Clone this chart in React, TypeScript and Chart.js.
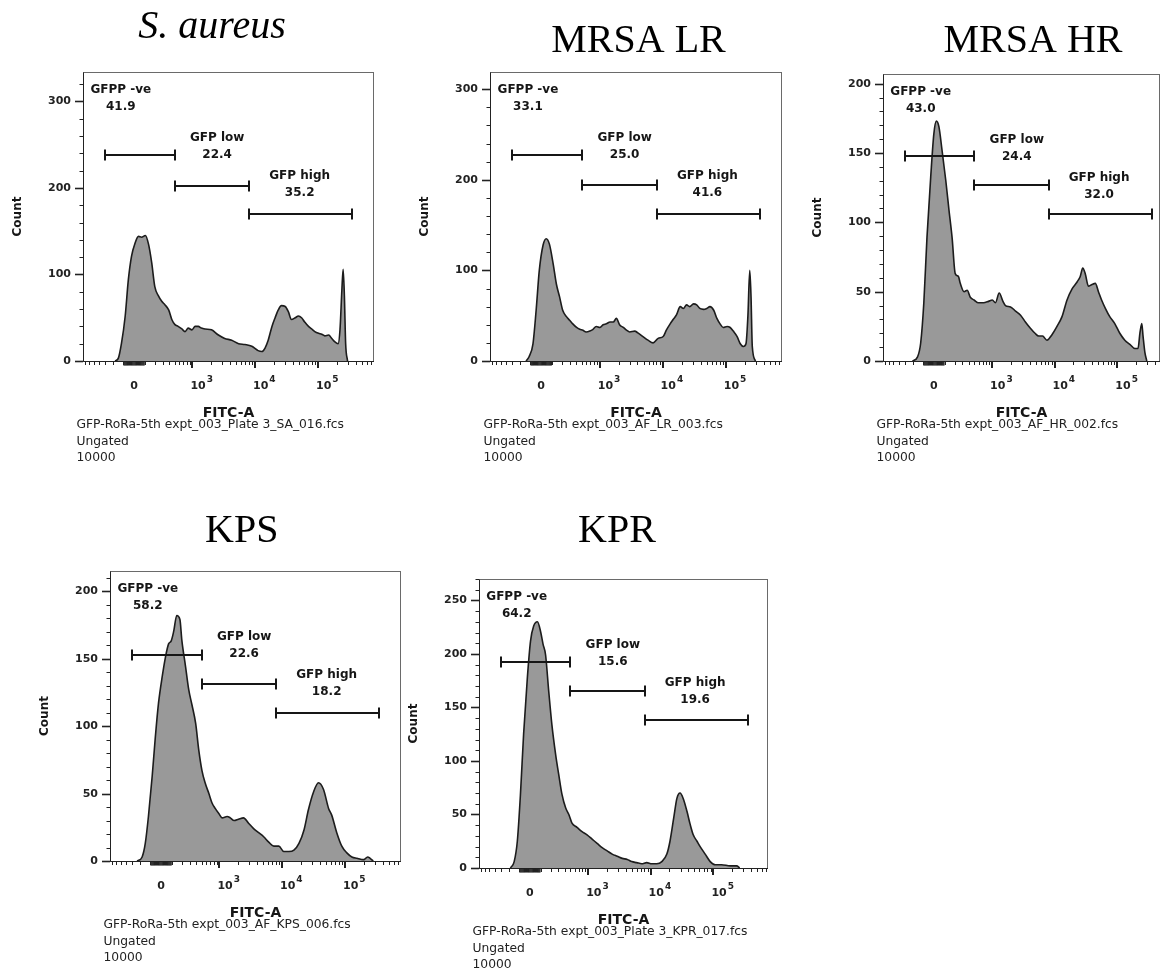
import React, { useEffect, useRef } from "react";
import { Chart, registerables } from "chart.js";
Chart.register(...registerables);

// ---------- data (x in biexponential display units, y in counts) ----------
const saX = [-0.30,-0.25,-0.20,-0.14,-0.09,-0.04,0.02,0.07,0.12,0.18,0.23,0.28,0.33,0.39,0.44,0.49,0.55,0.60,0.65,0.70,0.76,0.81,0.86,0.92,0.97,1.02,1.07,1.13,1.23,1.34,1.44,1.55,1.66,1.76,1.87,1.97,2.03,2.08,2.13,2.19,2.24,2.29,2.34,2.40,2.45,2.50,2.56,2.61,2.66,2.71,2.77,2.82,2.87,2.93,2.98,3.03,3.09,3.14,3.19,3.24,3.27,3.30,3.32,3.34,3.36,3.39];
const saY = [0,3,20,52,94,121,137,144,143,145,135,114,86,75,69,65,59,48,42,40,37,34,38,36,40,40,38,37,36,30,26,24,20,19,17,12,11,15,24,40,50,59,64,63,57,48,50,52,50,45,40,37,34,32,31,29,30,26,22,20,36,82,106,75,20,0];

const lrX = [-0.24,-0.19,-0.13,-0.08,-0.03,0.03,0.08,0.13,0.19,0.24,0.29,0.34,0.40,0.45,0.50,0.56,0.61,0.66,0.71,0.77,0.82,0.87,0.93,0.98,1.03,1.09,1.14,1.19,1.24,1.30,1.35,1.40,1.48,1.53,1.61,1.69,1.77,1.85,1.93,1.98,2.04,2.09,2.14,2.20,2.25,2.30,2.35,2.41,2.46,2.51,2.57,2.62,2.67,2.73,2.78,2.83,2.88,2.94,2.99,3.04,3.10,3.15,3.20,3.24,3.27,3.30,3.32,3.34,3.39];
const lrY = [0,5,19,56,100,128,135,129,107,85,71,56,49,45,41,37,35,34,32,33,35,38,37,40,41,43,43,47,40,37,34,32,33,31,27,23,20,25,27,34,41,46,51,60,58,62,60,63,62,58,57,58,60,56,47,41,37,38,37,33,27,19,16,19,49,100,71,16,0];

const hrX = [-0.34,-0.26,-0.21,-0.16,-0.11,-0.05,0.00,0.04,0.08,0.13,0.19,0.24,0.29,0.34,0.39,0.42,0.48,0.53,0.58,0.64,0.71,0.79,0.87,0.93,0.98,1.04,1.10,1.14,1.22,1.30,1.38,1.46,1.53,1.61,1.67,1.73,1.80,1.88,1.96,2.04,2.12,2.20,2.28,2.33,2.37,2.41,2.46,2.51,2.57,2.62,2.67,2.73,2.80,2.88,2.96,3.04,3.12,3.20,3.25,3.28,3.31,3.33,3.36,3.39];
const hrY = [0,3,13,42,89,133,164,173,169,152,130,109,89,63,61,56,50,51,46,44,42,42,43,44,42,49,43,40,39,36,33,28,24,20,18,18,15,19,25,32,44,52,57,61,67,63,54,55,56,50,44,38,32,27,20,15,12,9,9,20,27,18,6,0];

const kpsX = [-0.38,-0.30,-0.25,-0.20,-0.14,-0.09,-0.04,0.02,0.07,0.12,0.16,0.20,0.25,0.30,0.33,0.39,0.44,0.49,0.55,0.60,0.65,0.70,0.76,0.81,0.86,0.92,0.97,1.05,1.10,1.16,1.23,1.31,1.39,1.47,1.55,1.63,1.71,1.79,1.87,1.95,2.03,2.11,2.19,2.27,2.34,2.42,2.50,2.58,2.66,2.71,2.79,2.87,2.95,3.03,3.11,3.22,3.28,3.32,3.37];
const kpsY = [0,3,13,33,63,92,117,137,151,161,163,170,182,179,164,144,127,116,102,82,67,58,50,43,39,35,32,33,32,30,31,32,28,24,21,18,14,11,11,7,7,8,13,23,38,51,58,53,39,34,21,11,6,3,2,1,3,2,0];

const kprX = [-0.31,-0.25,-0.20,-0.15,-0.10,-0.04,0.01,0.06,0.12,0.17,0.21,0.25,0.30,0.35,0.41,0.46,0.51,0.57,0.62,0.67,0.75,0.83,0.91,0.99,1.07,1.15,1.23,1.31,1.39,1.47,1.55,1.62,1.70,1.78,1.86,1.94,2.02,2.10,2.18,2.23,2.29,2.34,2.39,2.44,2.50,2.55,2.60,2.66,2.71,2.79,2.87,2.95,3.05,3.19,3.29,3.34];
const kprY = [0,6,25,69,125,178,212,226,230,221,209,199,165,134,106,87,69,56,50,42,38,34,31,27,23,19,16,13,11,9,8,6,5,4,5,4,4,6,13,25,47,65,70,65,53,41,31,25,20,13,6,3,3,2,2,0];

// gates (FITC boundaries), names and percentages
const gateBounds = [-300, 500, 8100, 350000];
const gateNames = ["GFPP -ve", "GFP low", "GFP high"];
const saPct = ["41.9", "22.4", "35.2"];
const lrPct = ["33.1", "25.0", "41.6"];
const hrPct = ["43.0", "24.4", "32.0"];
const kpsPct = ["58.2", "22.6", "18.2"];
const kprPct = ["64.2", "15.6", "19.6"];
// gate bar heights (counts)
const saGateY = [238, 202, 170];
const lrGateY = [227, 194, 162];
const hrGateY = [148, 127, 106];
const kpsGateY = [153, 131, 110];
const kprGateY = [192, 165, 138];

const titles = ["S. aureus", "MRSA LR", "MRSA HR", "KPS", "KPR"];
const files = [
  "GFP-RoRa-5th expt_003_Plate 3_SA_016.fcs",
  "GFP-RoRa-5th expt_003_AF_LR_003.fcs",
  "GFP-RoRa-5th expt_003_AF_HR_002.fcs",
  "GFP-RoRa-5th expt_003_AF_KPS_006.fcs",
  "GFP-RoRa-5th expt_003_Plate 3_KPR_017.fcs",
];
const xPowers = [3, 4, 5];

// biexponential-like display transform
const T = (v: number) => Math.asinh(v / 240) / Math.LN10;

type Cfg = {
  title: string; italic: boolean; xs: number[]; ys: number[];
  yMax: number; yMajor: number; yMinor: number; xMax: number;
  gateY: number[]; pct: string[]; file: string;
  box: { left: number; top: number; w: number; h: number };
  pad: { left: number; top: number; right: number; bottom: number };
  titleX: number; titleY: number;
};

const panels: Cfg[] = [
  { title: titles[0], italic: true, xs: saX, ys: saY, yMax: 334, yMajor: 100, yMinor: 20, xMax: 3.81, gateY: saGateY, pct: saPct, file: files[0],
    box: { left: 0, top: 0, w: 395, h: 475 }, pad: { left: 83, top: 72, right: 21, bottom: 114 }, titleX: 212, titleY: 38 },
  { title: titles[1], italic: false, xs: lrX, ys: lrY, yMax: 319, yMajor: 100, yMinor: 20, xMax: 3.81, gateY: lrGateY, pct: lrPct, file: files[1],
    box: { left: 400, top: 0, w: 390, h: 475 }, pad: { left: 90, top: 72, right: 8, bottom: 114 }, titleX: 238.5, titleY: 52 },
  { title: titles[2], italic: false, xs: hrX, ys: hrY, yMax: 207, yMajor: 50, yMinor: 10, xMax: 3.60, gateY: hrGateY, pct: hrPct, file: files[2],
    box: { left: 790, top: 0, w: 377, h: 475 }, pad: { left: 93, top: 74, right: 7, bottom: 114 }, titleX: 243, titleY: 52 },
  { title: titles[3], italic: false, xs: kpsX, ys: kpsY, yMax: 215, yMajor: 50, yMinor: 10, xMax: 3.81, gateY: kpsGateY, pct: kpsPct, file: files[3],
    box: { left: 0, top: 490, w: 405, h: 485 }, pad: { left: 110, top: 81, right: 4, bottom: 114 }, titleX: 241.7, titleY: 51.7 },
  { title: titles[4], italic: false, xs: kprX, ys: kprY, yMax: 270, yMajor: 50, yMinor: 10, xMax: 3.79, gateY: kprGateY, pct: kprPct, file: files[4],
    box: { left: 405, top: 490, w: 395, h: 485 }, pad: { left: 74, top: 89, right: 32, bottom: 107 }, titleX: 212, titleY: 51.7 },
];

const X_MIN = -0.81;
const SANS = '"DejaVu Sans", sans-serif';
const LABEL_U = [-0.21, 1.32, 2.63];
const LABEL_DY = [18, 66, 104];

function makeDecor(cfg: Cfg) {
  return {
    id: "flowDecor",
    afterDraw(chart: any) {
      const ctx = chart.ctx as CanvasRenderingContext2D;
      const a = chart.chartArea;
      const sx = chart.scales.x, sy = chart.scales.y;
      const L = a.left, R = a.right, Tp = a.top, B = a.bottom;
      ctx.save();

      // gates
      ctx.strokeStyle = "#161616";
      ctx.lineWidth = 2;
      for (let i = 0; i < 3; i++) {
        const x1 = Math.round(sx.getPixelForValue(T(gateBounds[i])));
        const x2 = Math.round(sx.getPixelForValue(T(gateBounds[i + 1])));
        const gy = Math.round(sy.getPixelForValue(cfg.gateY[i]));
        ctx.beginPath();
        ctx.moveTo(x1, gy); ctx.lineTo(x2, gy);
        ctx.moveTo(x1, gy - 5.5); ctx.lineTo(x1, gy + 5.5);
        ctx.moveTo(x2, gy - 5.5); ctx.lineTo(x2, gy + 5.5);
        ctx.stroke();
      }
      ctx.fillStyle = "#161616";
      ctx.font = `bold 12px ${SANS}`;
      ctx.textAlign = "center";
      ctx.textBaseline = "middle";
      for (let i = 0; i < 3; i++) {
        const lx = sx.getPixelForValue(LABEL_U[i]);
        ctx.fillText(gateNames[i], lx, Tp + LABEL_DY[i]);
        ctx.fillText(cfg.pct[i], lx, Tp + LABEL_DY[i] + 17);
      }

      // frame
      ctx.strokeStyle = "#6a6a6a";
      ctx.lineWidth = 1;
      ctx.strokeRect(L + 0.5, Tp + 0.5, R - L - 1, B - Tp);
      ctx.strokeStyle = "#222";
      ctx.beginPath();
      ctx.moveTo(L + 0.5, Tp + 0.5); ctx.lineTo(L + 0.5, B + 0.5);
      ctx.lineTo(R, B + 0.5);
      ctx.stroke();

      // x ticks
      const minors: number[] = [0];
      for (let d = 10; d <= 100000; d *= 10) {
        for (let k = 1; k <= 9; k++) {
          if (k === 1 && d >= 1000) continue;
          minors.push(k * d);
          if (d < 1000) minors.push(-k * d);
        }
      }
      ctx.strokeStyle = "#222";
      for (const v of minors) {
        const u = T(v);
        if (u < sx.min || u > sx.max) continue;
        const dense = Math.abs(v) < 100;
        const px = dense ? sx.getPixelForValue(u) : Math.round(sx.getPixelForValue(u)) + 0.5;
        ctx.lineWidth = dense ? 1.5 : 1;
        ctx.beginPath();
        ctx.moveTo(px, B); ctx.lineTo(px, B + (dense ? 4.5 : 4));
        ctx.stroke();
      }
      ctx.lineWidth = 2;
      ctx.beginPath();
      for (const p of xPowers) {
        const px = Math.round(sx.getPixelForValue(T(Math.pow(10, p))));
        ctx.moveTo(px, B); ctx.lineTo(px, B + 7);
      }
      ctx.stroke();

      // x tick labels
      ctx.fillStyle = "#222";
      ctx.textBaseline = "alphabetic";
      ctx.font = `bold 11px ${SANS}`;
      ctx.textAlign = "center";
      ctx.fillText("0", sx.getPixelForValue(T(0)), B + 28);
      for (const p of xPowers) {
        const px = sx.getPixelForValue(T(Math.pow(10, p)));
        ctx.font = `bold 11px ${SANS}`;
        ctx.textAlign = "left";
        const x0 = px - 2;
        ctx.fillText("10", x0, B + 28);
        const w = ctx.measureText("10").width;
        ctx.font = `bold 9px ${SANS}`;
        ctx.fillText(String(p), x0 + w + 1, B + 21);
      }

      // y ticks
      ctx.strokeStyle = "#222";
      for (let v = 0; v <= cfg.yMax + 1e-9; v += cfg.yMinor) {
        const py = Math.round(sy.getPixelForValue(v)) + 0.5;
        const major = v % cfg.yMajor === 0;
        ctx.lineWidth = major ? 1.6 : 1;
        ctx.beginPath();
        ctx.moveTo(L - (major ? 8 : 3.5), py); ctx.lineTo(L, py);
        ctx.stroke();
        if (major) {
          ctx.font = `bold 11px ${SANS}`;
          ctx.textAlign = "right";
          ctx.textBaseline = "middle";
          ctx.fillText(String(v), L - 12, py);
        }
      }

      // axis titles
      ctx.fillStyle = "#161616";
      ctx.font = `bold 14px ${SANS}`;
      ctx.textAlign = "center";
      ctx.textBaseline = "alphabetic";
      ctx.fillText("FITC-A", (L + R) / 2, B + 55.5);
      ctx.save();
      ctx.translate(L - 65.5, (Tp + B) / 2);
      ctx.rotate(-Math.PI / 2);
      ctx.font = `bold 12px ${SANS}`;
      ctx.textBaseline = "middle";
      ctx.fillText("Count", 0, 0);
      ctx.restore();

      // caption
      ctx.fillStyle = "#222";
      ctx.font = `12.3px ${SANS}`;
      ctx.textAlign = "left";
      ctx.textBaseline = "middle";
      ctx.fillText(cfg.file, L - 6.5, B + 64);
      ctx.fillText("Ungated", L - 6.5, B + 80.7);
      ctx.fillText("10000", L - 6.5, B + 97.3);

      // panel title
      ctx.fillStyle = "#000";
      ctx.font = `${cfg.italic ? "italic " : ""}40px "Liberation Serif", "Times New Roman", serif`;
      ctx.textAlign = "center";
      ctx.textBaseline = "alphabetic";
      ctx.fillText(cfg.title, cfg.titleX, cfg.titleY);

      ctx.restore();
    },
  };
}

function Panel({ cfg }: { cfg: Cfg }) {
  const ref = useRef<HTMLCanvasElement | null>(null);
  useEffect(() => {
    if (!ref.current) return;
    const pts = cfg.xs.map((x, i) => ({ x, y: cfg.ys[i] }));
    const chart = new Chart(ref.current, {
      type: "line",
      data: {
        datasets: [
          {
            data: pts,
            fill: "origin",
            backgroundColor: "#999999",
            borderColor: "#1c1c1c",
            borderWidth: 1.6,
            pointRadius: 0,
            cubicInterpolationMode: "monotone",
          } as any,
        ],
      },
      options: {
        responsive: false,
        animation: false,
        devicePixelRatio: 1,
        events: [],
        layout: { padding: cfg.pad },
        scales: {
          x: { type: "linear", min: X_MIN, max: cfg.xMax, display: false },
          y: { type: "linear", min: 0, max: cfg.yMax, display: false },
        },
        plugins: { legend: { display: false }, tooltip: { enabled: false } },
      },
      plugins: [makeDecor(cfg)],
    });
    return () => chart.destroy();
  }, [cfg]);
  return (
    <canvas
      ref={ref}
      width={cfg.box.w}
      height={cfg.box.h}
      style={{ position: "absolute", left: cfg.box.left, top: cfg.box.top, width: cfg.box.w, height: cfg.box.h }}
    />
  );
}

export default function App() {
  return (
    <div style={{ position: "absolute", left: 0, top: 0, width: 1167, height: 975, background: "#fff", overflow: "hidden" }}>
      {panels.map((p, i) => (
        <Panel key={i} cfg={p} />
      ))}
    </div>
  );
}
